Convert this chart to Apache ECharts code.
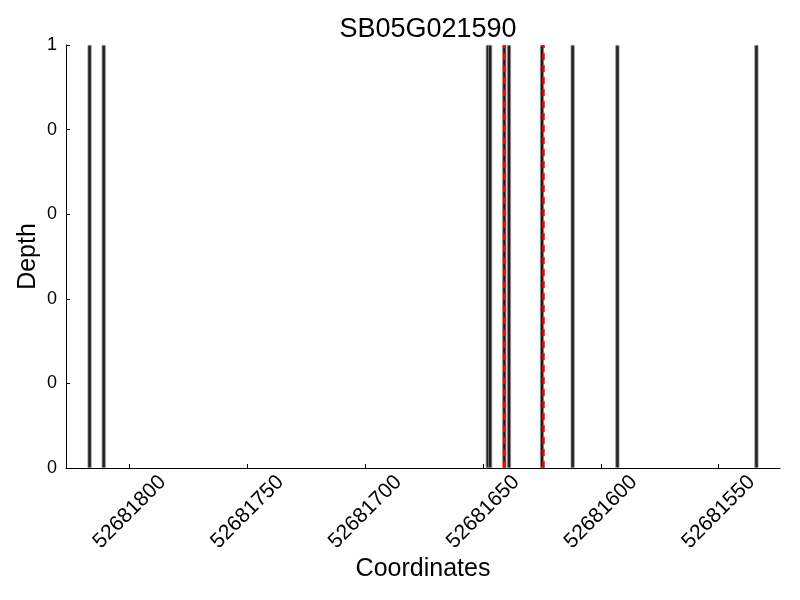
<!DOCTYPE html>
<html>
<head>
<meta charset="utf-8">
<script src="https://cdn.jsdelivr.net/npm/echarts@6/dist/echarts.min.js"></script>
<style>html,body{margin:0;padding:0;background:#fff}#c{width:800px;height:600px}</style>
</head>
<body>
<div id="c"></div>
<script>
const title = 'SB05G021590';
const barPositions = [52681817, 52681811, 52681648, 52681647, 52681641, 52681639, 52681625, 52681612, 52681593, 52681534];
const barDepths = [1, 1, 1, 1, 1, 1, 1, 1, 1, 1];
const markedPositions = [52681641, 52681624.5];
const xTickValues = [52681800, 52681750, 52681700, 52681650, 52681600, 52681550];
const yTickValues = [0, 0.2, 0.4, 0.6, 0.8, 1];
const yTickLabels = ['0', '0', '0', '0', '0', '1'];
const xMin = 52681524, xMax = 52681827;

const font = 'Liberation Sans, Arial, sans-serif';
const chart = echarts.init(document.getElementById('c'));
chart.setOption({
  animation: false,
  backgroundColor: '#fff',
  title: {
    text: title, left: 423, top: 11, textAlign: 'center',
    textStyle: {fontFamily: font, fontSize: 27, fontWeight: 'normal', color: '#000'}
  },
  grid: {left: 66, right: 20, top: 45, bottom: 132},
  xAxis: {
    type: 'value', inverse: true, min: xMin, max: xMax,
    name: 'Coordinates', nameLocation: 'middle', nameGap: 89, nameMoveOverlap: false,
    nameTextStyle: {fontFamily: font, fontSize: 25, color: '#000'},
    axisLine: {show: true, lineStyle: {color: '#000', width: 1}},
    axisTick: {show: true, inside: true, length: 4, lineStyle: {color: '#000'}, customValues: xTickValues},
    axisLabel: {show: true, rotate: 45, align: 'center', verticalAlign: 'middle', fontFamily: font, fontSize: 21, color: '#000', margin: 44, customValues: xTickValues,
      formatter: v => String(v)},
    splitLine: {show: false}
  },
  yAxis: {
    type: 'value', min: 0, max: 1, interval: 0.2,
    name: 'Depth', nameLocation: 'middle', nameGap: 25, nameMoveOverlap: false,
    nameTextStyle: {fontFamily: font, fontSize: 25, color: '#000'},
    axisLine: {show: true, lineStyle: {color: '#000', width: 1}},
    axisTick: {show: true, inside: true, length: 4, lineStyle: {color: '#000'}},
    axisLabel: {fontFamily: font, fontSize: 18, color: '#000', margin: 9,
      formatter: (v) => { const i = yTickValues.findIndex(t => Math.abs(t - v) < 1e-9); return i >= 0 ? yTickLabels[i] : ''; }},
    splitLine: {show: false}
  },
  series: [{
    type: 'bar',
    data: barPositions.map((p, i) => [p, barDepths[i]]),
    barWidth: 4,
    itemStyle: {color: '#1e1e1e', borderColor: '#8a8a8a', borderWidth: 0.8},
    markLine: {
      symbol: 'none', silent: true, label: {show: false},
      lineStyle: {color: '#ff0000', type: [7, 5], width: 2.5},
      data: markedPositions.map(p => ({xAxis: p}))
    }
  }]
});
</script>
</body>
</html>
